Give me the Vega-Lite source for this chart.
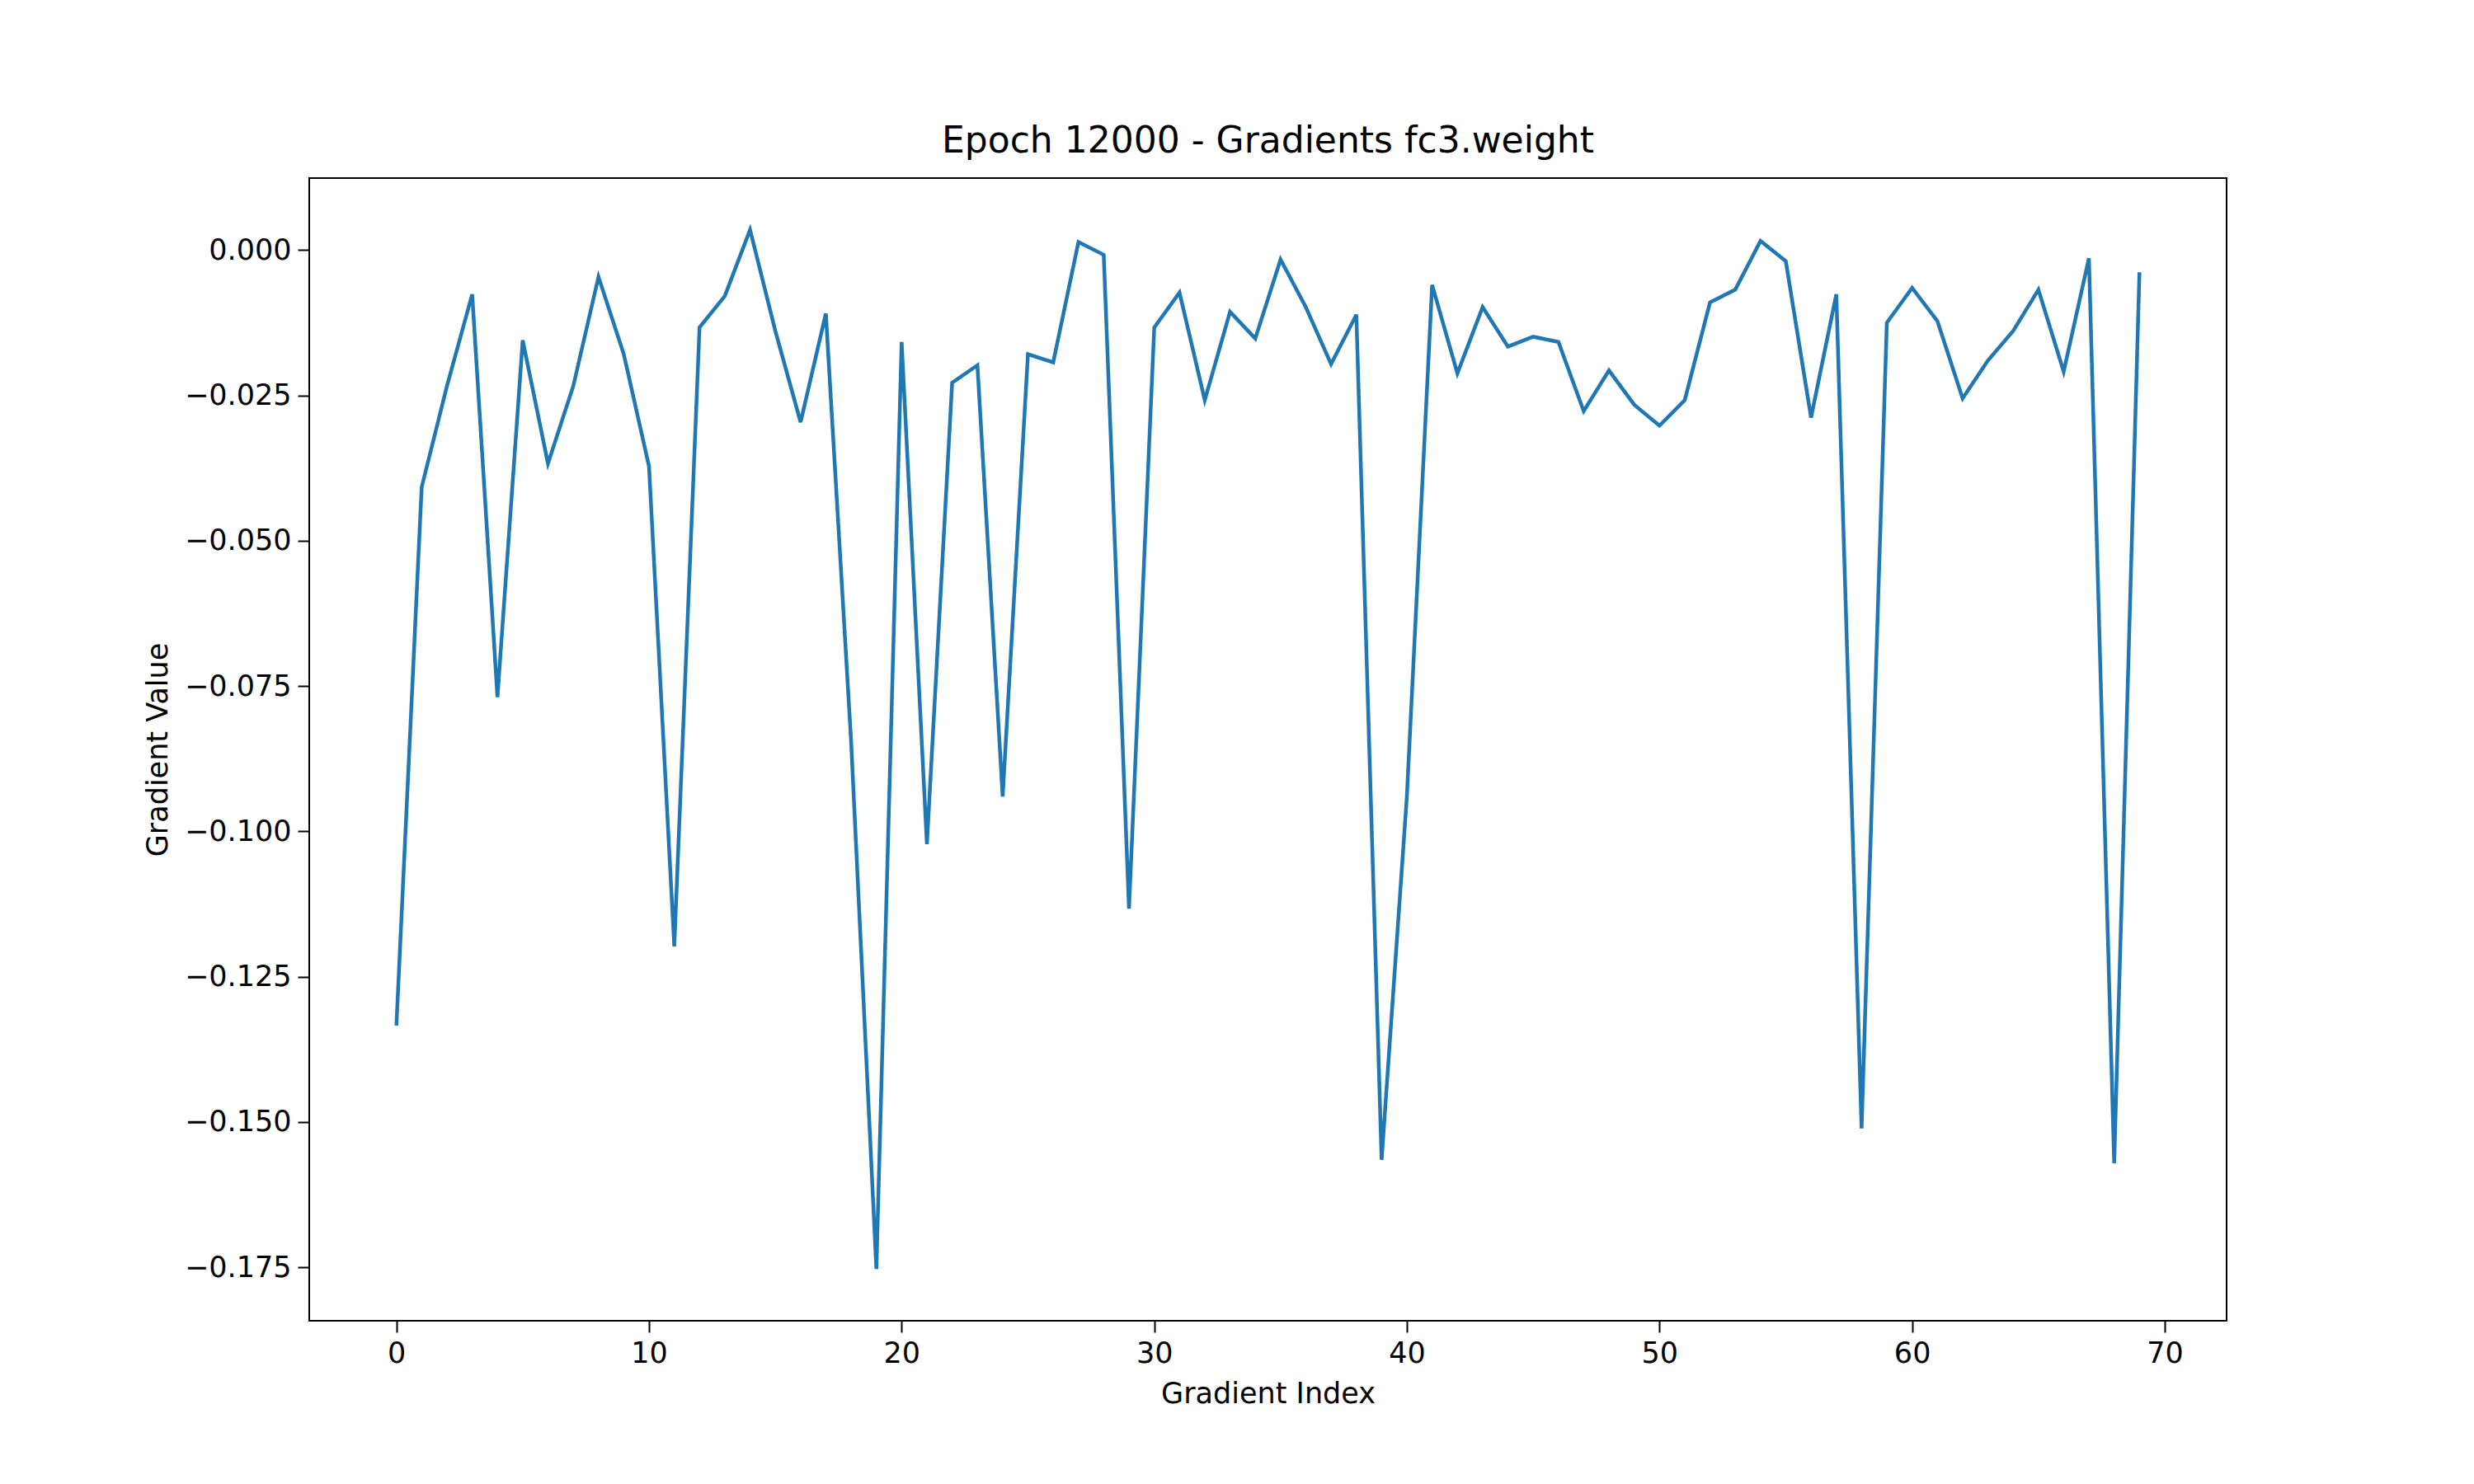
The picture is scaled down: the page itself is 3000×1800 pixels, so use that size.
{
  "$schema": "https://vega.github.io/schema/vega-lite/v6.json",
  "autosize": "none",
  "padding": {"left": 375, "top": 216, "right": 300, "bottom": 198},
  "width": 2325,
  "height": 1386,
  "background": "white",
  "title": {"text": "Epoch 12000 - Gradients fc3.weight", "font": "DejaVu Sans", "fontSize": 44, "fontWeight": "normal", "offset": 22, "color": "black"},
  "data": {"values": [
    {"i":0,"v":-0.1334},{"i":1,"v":-0.0408},{"i":2,"v":-0.0234},{"i":3,"v":-0.0076},{"i":4,"v":-0.0769},
    {"i":5,"v":-0.0155},{"i":6,"v":-0.0367},{"i":7,"v":-0.0234},{"i":8,"v":-0.0046},{"i":9,"v":-0.0179},
    {"i":10,"v":-0.0372},{"i":11,"v":-0.1198},{"i":12,"v":-0.0133},{"i":13,"v":-0.0079},{"i":14,"v":0.0035},
    {"i":15,"v":-0.0139},{"i":16,"v":-0.0296},{"i":17,"v":-0.0109},{"i":18,"v":-0.0845},{"i":19,"v":-0.1753},
    {"i":20,"v":-0.0158},{"i":21,"v":-0.1022},{"i":22,"v":-0.0228},{"i":23,"v":-0.0198},{"i":24,"v":-0.094},
    {"i":25,"v":-0.0179},{"i":26,"v":-0.0193},{"i":27,"v":0.0014},{"i":28,"v":-0.0008},{"i":29,"v":-0.1133},
    {"i":30,"v":-0.0133},{"i":31,"v":-0.0073},{"i":32,"v":-0.0258},{"i":33,"v":-0.0106},{"i":34,"v":-0.0152},
    {"i":35,"v":-0.0016},{"i":36,"v":-0.0098},{"i":37,"v":-0.0196},{"i":38,"v":-0.0111},{"i":39,"v":-0.1565},
    {"i":40,"v":-0.094},{"i":41,"v":-0.006},{"i":42,"v":-0.0212},{"i":43,"v":-0.0098},{"i":44,"v":-0.0166},
    {"i":45,"v":-0.0149},{"i":46,"v":-0.0158},{"i":47,"v":-0.0277},{"i":48,"v":-0.0207},{"i":49,"v":-0.0266},
    {"i":50,"v":-0.0302},{"i":51,"v":-0.0258},{"i":52,"v":-0.009},{"i":53,"v":-0.0068},{"i":54,"v":0.0016},
    {"i":55,"v":-0.0019},{"i":56,"v":-0.0288},{"i":57,"v":-0.0076},{"i":58,"v":-0.1511},{"i":59,"v":-0.0125},
    {"i":60,"v":-0.0065},{"i":61,"v":-0.0122},{"i":62,"v":-0.0255},{"i":63,"v":-0.019},{"i":64,"v":-0.0139},
    {"i":65,"v":-0.0068},{"i":66,"v":-0.0209},{"i":67,"v":-0.0014},{"i":68,"v":-0.1571},{"i":69,"v":-0.0038}
  ]},
  "mark": {"type": "line", "color": "#1f77b4", "strokeWidth": 4.5},
  "encoding": {
    "x": {"field": "i", "type": "quantitative", "title": "Gradient Index",
      "scale": {"domain": [-3.45, 72.45], "nice": false, "zero": false},
      "axis": {"values": [0,10,20,30,40,50,60,70], "grid": false}},
    "y": {"field": "v", "type": "quantitative", "title": "Gradient Value",
      "scale": {"domain": [-0.1842, 0.0124], "nice": false, "zero": false},
      "axis": {"values": [0,-0.025,-0.05,-0.075,-0.1,-0.125,-0.15,-0.175], "format": ".3f", "grid": false,
        "labelExpr": "replace(datum.label, '-', '\u2212')"}}
  },
  "config": {
    "view": {"stroke": "black", "strokeWidth": 2},
    "axis": {"labelFont": "DejaVu Sans", "titleFont": "DejaVu Sans", "labelFontSize": 35, "titleFontSize": 35,
      "titleFontWeight": "normal", "labelColor": "black", "titleColor": "black", "tickColor": "black",
      "tickSize": 14, "tickWidth": 2, "domain": false, "labelPadding": 8, "titlePadding": 14}
  }
}
